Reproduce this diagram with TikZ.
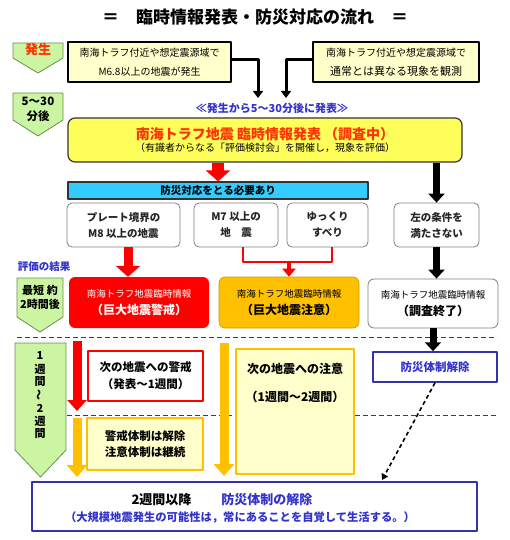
\documentclass[tikz,border=0pt]{standalone}
\usepackage{fontspec}
\setmainfont{Noto Sans CJK JP}
\usetikzlibrary{arrows.meta}
\definecolor{stagegreen}{HTML}{CCF5A3}
\definecolor{stageedge}{HTML}{6B8E4E}
\definecolor{hiyellow}{HTML}{FFFF5C}
\definecolor{paleyellow}{HTML}{FFFFCC}
\definecolor{amber}{HTML}{FFC000}
\definecolor{skyblue}{HTML}{33CCFF}
\definecolor{alertred}{HTML}{FF0000}
\definecolor{headred}{HTML}{FF3300}
\definecolor{bluetext}{HTML}{3333CC}
\definecolor{blueedge}{HTML}{3333AA}
\newcommand\fs[2]{\fontsize{#1}{#2}\selectfont}
\begin{document}
\begin{tikzpicture}[x=1pt,y=-1pt,line join=round,
  every node/.style={inner sep=0pt,align=center},
  stage/.style={draw=stageedge,fill=stagegreen,line width=0.8pt},
  srcbox/.style={draw,line width=1.6pt,fill=paleyellow,minimum height=40pt,font=\fs{10}{19}},
  cond/.style={draw=gray,rounded corners=5pt,line width=0.8pt,fill=white,minimum width=#1,minimum height=44pt,font=\fs{10.5}{16}\bfseries,text=black!85},
  result/.style={rounded corners=6pt,minimum width=140pt,minimum height=51pt,font=\fs{9.5}{17}},
  pale/.style={draw=amber,line width=2pt,fill=paleyellow},
  sep/.style={draw=black!75,line width=0.8pt,dash pattern=on 5pt off 3pt},
  feed/.style={line width=3pt,-{Triangle[width=10pt,length=7pt]}},
  blk/.style={line cap=butt,line width=7pt,-{Triangle[width=16pt,length=9pt]}},
  redfat/.style={line cap=butt,draw=alertred,line width=#1,-{Triangle[width=24pt,length=11pt]}},
  redline/.style={draw=alertred,line width=2pt},
  redthin/.style={line cap=butt,draw=alertred,line width=4pt,-{Triangle[width=13pt,length=8pt]}},
  amberfat/.style={line cap=butt,draw=amber,line width=9pt,-{Triangle[width=20pt,length=12pt]}}
  ]
\useasboundingbox (0,0) rectangle (510,540);
\node[font=\fs{17}{20}\bfseries] (title) at (255,17) {＝　臨時情報発表・防災対応の流れ　＝};
% time line on the left
\foreach \xa/\xb/\ya/\yb/\yc in {13/63/43/58/73, 13/63/93/120/136, 17/63/278/317/332, 15/66/343/450/477}{
  \draw[stage] (\xa,\ya) -- (\xb,\ya) -- (\xb,\yb) -- ({(\xa+\xb)/2},\yc) -- (\xa,\yb) -- cycle;
}
\node[font=\fs{13}{15}\bfseries,text=headred] (s1) at (38,50) {発生};
\node[font=\fs{11.5}{15}\bfseries] (s2) at (38,109) {5～30\\分後};
\node[font=\fs{10.5}{12}\bfseries,text=bluetext] (eval) at (44,267) {評価の結果};
\node[font=\fs{11}{14}\bfseries] (s3) at (40,297) {最短 約\\2時間後};
\foreach \c [count=\i] in {1,週,間,{\rotatebox[origin=c]{90}{～}},2,週,間}
  \node[font=\fs{11}{12}\bfseries] (wk\i) at (40,{343+13*\i}) {\c};
% sources
\node[srcbox,minimum width=163pt] (srcL) at (149.5,62) {南海トラフ付近や想定震源域で\\M6.8以上の地震が発生};
\node[srcbox,minimum width=166pt] (srcR) at (396,62) {南海トラフ付近や想定震源域で\\\fs{11}{19}通常とは異なる現象を観測};
\coordinate (inL) at (258,98);
\coordinate (inR) at (286,98);
\draw[feed] ([yshift=2pt]srcL.east) -| (inL);
\draw[feed] ([yshift=2pt]srcR.west) -| (inR);
\node[font=\fs{11}{13}\bfseries,text=bluetext] (notice) at (272,108) {≪発生から5～30分後に発表≫};
\node[draw=black!80,line width=1.2pt,fill=hiyellow,rounded corners=7pt,minimum width=394pt,minimum height=44pt] (rinji) at (265,140)
  {\fs{14}{20}\bfseries\textcolor{headred}{南海トラフ地震 臨時情報発表 （調査中）}\\\fs{10}{20}（有識者からなる「評価検討会」を開催し，現象を評価）};
\node[draw=black!80,line width=1.2pt,fill=skyblue,minimum width=300pt,minimum height=17pt,font=\fs{10.5}{12}\bfseries] (need) at (218,190.5) {防災対応をとる必要あり};
\draw[redfat=12pt] (rinji.south -| need.north) -- (need.north);
% conditions
\node[cond=113pt] (c1) at (123.5,225) {プレート境界の\\M8 以上の地震};
\node[cond=84pt] (c2) at (236,225) {M7 以上の\\地　震};
\node[cond=81pt] (c3) at (327.5,225) {ゆっくり\\すべり};
\node[cond=85pt] (c4) at (436.5,225) {左の条件を\\満たさない};
\draw[blk] (rinji.south -| c4.north) -- (c4.north);
% results
\node[result,fill=alertred,text=white] (warn) at (139,302.5) {南海トラフ地震臨時情報\\\fs{12}{17}\bfseries（巨大地震警戒）};
\node[result,fill=amber,draw=amber!80!black,line width=0.6pt] (caut) at (289,302.5) {南海トラフ地震臨時情報\\\fs{12}{17}\bfseries（巨大地震注意）};
\node[result,draw=gray,line width=0.8pt,fill=white,minimum width=130pt,minimum height=49pt] (done) at (433,303.5) {南海トラフ地震臨時情報\\\fs{12}{17}\bfseries（調査終了）};
\coordinate (c1out) at ([xshift=4.5pt]c1.south);
\draw[redfat=9pt] (c1out) -- (c1out |- warn.north);
\coordinate (c2out) at ([xshift=7pt]c2.south);
\coordinate (c3out) at ([xshift=4.5pt]c3.south);
\coordinate (jn) at (caut.north |- 0,262);
\draw[redline] (c2out) |- (jn) -| (c3out);
\draw[redthin] (jn) -- (caut.north);
\draw[blk] (c4.south) -- (c4.south |- done.north);
% periods
\draw[sep] (17,337) -- (497,337);
\draw[sep] (67,415) -- (497,415);
\node[draw=alertred,line width=1.5pt,fill=white,minimum width=115pt,minimum height=50pt,font=\fs{11.5}{17}\bfseries] (w1) at (145.5,376) {次の地震への警戒\\（発表～1週間）};
\node[pale,minimum width=118pt,minimum height=125pt] (c5) at (295,411.5) {};
\node[font=\fs{12}{28}\bfseries] (c5txt) at (295,383) {次の地震への注意\\（1週間～2週間）};
\node[draw=blueedge,line width=1.5pt,fill=white,minimum width=124pt,minimum height=30pt,font=\fs{11.5}{13}\bfseries,text=bluetext] (lift) at (435,367) {防災体制解除};
\draw[blk] (done.south) -- (done.south |- lift.north);
\node[pale,minimum width=116pt,minimum height=52pt,font=\fs{11.5}{16}\bfseries] (w2) at (145,444) {警戒体制は解除\\注意体制は継続};
\coordinate (r1) at (77,341);
\coordinate (r2) at (77,411);
\draw[redfat=9pt,-{Triangle[width=19pt,length=11pt]}] (r1) -- (r2);
\coordinate (a1) at (77,418);
\coordinate (a2) at (77,477);
\coordinate (a3) at (224,343);
\coordinate (a4) at (224,476);
\draw[amberfat] (a1) -- (a2);
\draw[amberfat] (a3) -- (a4);
% after two weeks
\node[draw=blueedge,line width=2pt,fill=white,minimum width=445pt,minimum height=49pt] (final) at (254.5,506.5) {};
\node[font=\fs{13}{17}\bfseries] (finaltxt) at (240,508)
  {2週間以降\hspace{30pt}\textcolor{bluetext}{防災体制の解除}\hspace*{36pt}\\\fs{11.3}{17}\textcolor{bluetext}{（大規模地震発生の可能性は，常にあることを自覚して生活する。）}};
\coordinate (dl) at (382,480);
\draw[line width=1.6pt,dash pattern=on 4pt off 3pt,-{Triangle[width=7pt,length=6pt]}] (lift.south) -- (dl);
\end{tikzpicture}
\end{document}
